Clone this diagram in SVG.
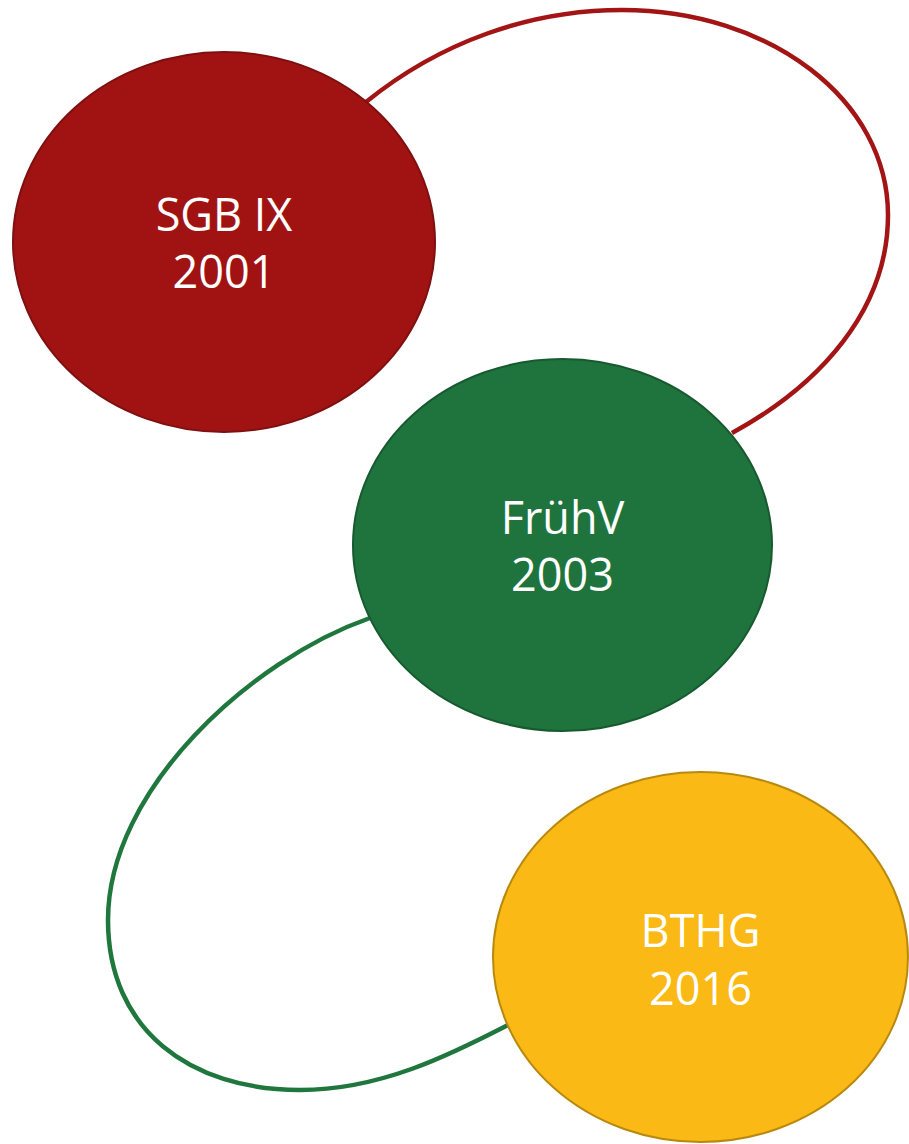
<svg xmlns="http://www.w3.org/2000/svg" width="909" height="1144" viewBox="0 0 909 1144">
<style>
.lbl{font-family:"Open Sans","Noto Sans","DejaVu Sans",sans-serif;font-size:45px;fill:#ffffff;text-anchor:middle}
.conn{fill:none;stroke-width:4.5}
</style>
<rect width="909" height="1144" fill="#ffffff"/>
<g id="connectors">
<path class="conn" stroke="#A31515" d="M 366 102 C 440 42 530 10 622 10 C 770 10 888 100 888 215 C 888 310 820 385 732 433"/>
<path class="conn" stroke="#1F773E" d="M 370 618 C 250 660 108 790 108 920 C 108 1030 190 1090 300 1090 C 380 1090 450 1055 508 1025"/>
</g>
<g id="node-sgb">
<ellipse cx="224" cy="242" rx="211" ry="190" fill="#A11313" stroke="#7E1010" stroke-width="2"/>
<text class="lbl" x="224" y="231">SGB IX</text>
<text class="lbl" x="224" y="288">2001</text>
</g>
<g id="node-fruehv">
<ellipse cx="562.5" cy="545" rx="209.5" ry="186" fill="#1F743D" stroke="#185A30" stroke-width="2"/>
<text class="lbl" x="562.5" y="534">FrühV</text>
<text class="lbl" x="562.5" y="591">2003</text>
</g>
<g id="node-bthg">
<ellipse cx="700.5" cy="957" rx="207.5" ry="185" fill="#FBB915" stroke="#B8890E" stroke-width="2"/>
<text class="lbl" x="700.5" y="947">BTHG</text>
<text class="lbl" x="700.5" y="1005">2016</text>
</g>
</svg>
